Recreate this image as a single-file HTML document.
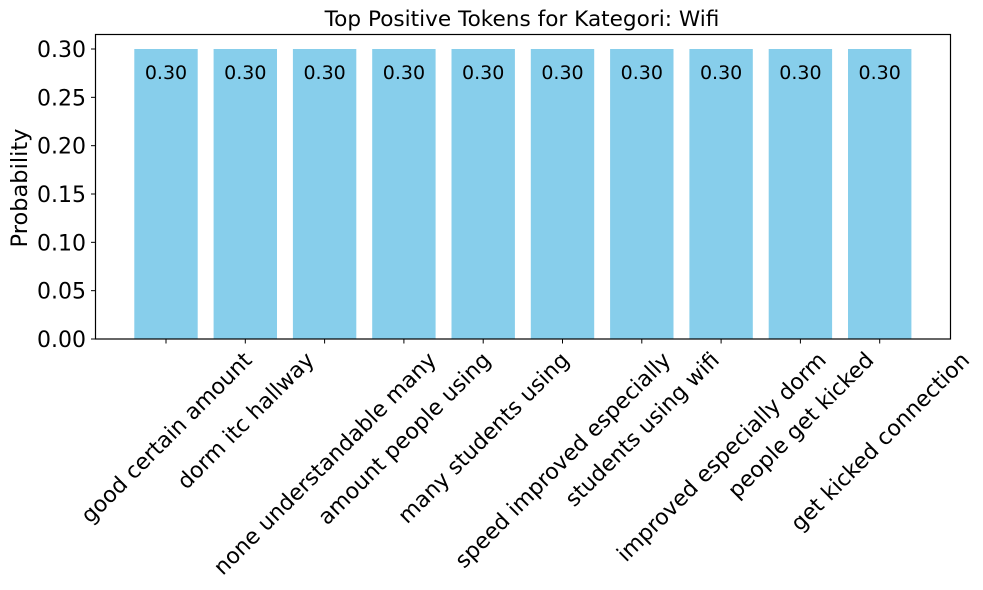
<!DOCTYPE html>
<html><head><meta charset="utf-8"><style>
body{margin:0;background:#fff}
svg{display:block;font-family:"DejaVu Sans","Liberation Sans",sans-serif}
</style></head><body>
<svg id="chart" width="983" height="590">
<text x="522" y="26" text-anchor="middle" font-size="21.6">Top Positive Tokens for Kategori: Wifi</text>
<text transform="translate(27,188) rotate(-90)" text-anchor="middle" font-size="22.5">Probability</text>
<g id="bars"></g><g id="yt"></g><g id="xt"></g>
<rect x="95.5" y="34.5" width="855" height="304.5" fill="none" stroke="#000" stroke-width="1.2"/>
</svg>
<script>
const categories=["good certain amount","dorm itc hallway","none understandable many","amount people using","many students using","speed improved especially","students using wifi","improved especially dorm","people get kicked","get kicked connection"];
const values=[0.30,0.30,0.30,0.30,0.30,0.30,0.30,0.30,0.30,0.30];
const yTicks=[0,0.05,0.10,0.15,0.20,0.25,0.30];
const NS="http://www.w3.org/2000/svg";
const y0=339,yTop=34.5,yMax=0.315;
function ys(v){return y0-(v/yMax)*(y0-yTop);}
function xs(i){return 166+79.3*i;}
const bw=63.4;
function mk(t,a,p){const e=document.createElementNS(NS,t);for(const k in a)e.setAttribute(k,a[k]);p.appendChild(e);return e;}
const bars=document.getElementById('bars'),yt=document.getElementById('yt'),xt=document.getElementById('xt');
values.forEach((v,i)=>{
 const r=mk('rect',{x:xs(i)-bw/2,y:ys(v),width:bw,height:y0-ys(v),fill:'#87ceeb'},bars);
 
 
 const t=mk('text',{x:xs(i),y:ys(v)+30,'text-anchor':'middle','font-size':'19'},bars);
 t.textContent=v.toFixed(2);
 
 
});
yTicks.forEach(v=>{
 const y=ys(v);
 const l=mk('line',{x1:91,x2:95.5,y1:y,y2:y,stroke:'#000','stroke-width':1},yt);
 
 
 const t=mk('text',{x:86,y:y+8,'text-anchor':'end','font-size':'22'},yt);
 t.textContent=v.toFixed(2);
 
 
});
categories.forEach((c,i)=>{
 const x=xs(i);
 const l=mk('line',{x1:x,x2:x,y1:339,y2:343.5,stroke:'#000','stroke-width':1},xt);
 
 
 const t=mk('text',{x:0,y:0,'text-anchor':'middle','font-size':'22'},xt);
 t.textContent=c;
 
 
 const w=t.getComputedTextLength(),h=22;
 const bh=(w+h)/Math.SQRT2;
 const cy=348+bh/2;
 t.setAttribute('transform','translate('+x+','+cy+') rotate(-45) translate(0,'+(h*0.36)+')');
});
</script>
</body></html>
